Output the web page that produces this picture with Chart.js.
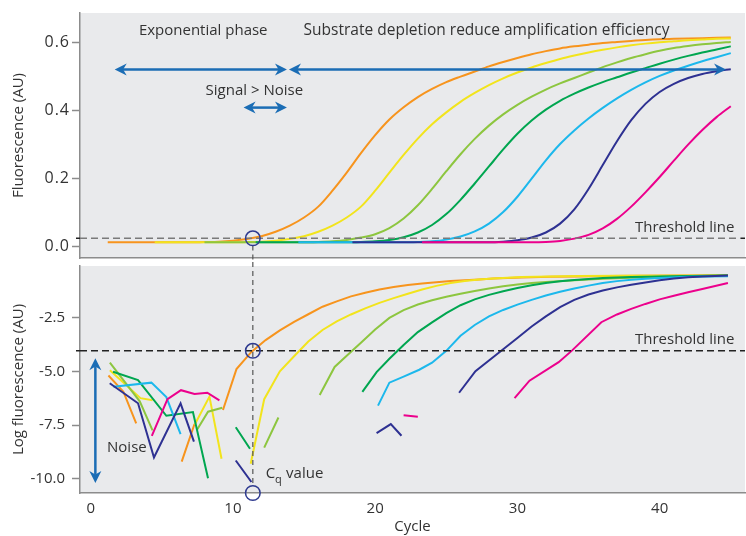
<!DOCTYPE html>
<html>
<head>
<meta charset="utf-8">
<script src="https://cdn.jsdelivr.net/npm/chart.js@4.4.0/dist/chart.umd.min.js"></script>
<style>
  body { margin: 0; background: #fff; }
  canvas { display: block; }
</style>
</head>
<body>
<canvas id="topChart" width="746" height="262"></canvas>
<canvas id="logChart" width="746" height="274"></canvas>
<script>
// cycle numbers used by the fluorescence (top) panel
const cycles = [1, 2, 3, 4, 5, 6, 7, 8, 9, 10, 11, 12, 13, 14, 15, 16, 17, 18, 19, 20,
  21, 22, 23, 24, 25, 26, 27, 28, 29, 30, 31, 32, 33, 34, 35, 36, 37, 38, 39, 40,
  41, 42, 43, 44, 45];
// cycle where each curve's baseline begins
const startCycle = [1.2, 4.5, 8, 11.6, 14.6, 18.4, 23.3];

const fluoOrange = [null, .013, .013, .013, .013, .013, .013, .014, .015, .018,
  .023, .031, .044, .062, .086, .118, .165, .218, .275, .328,
  .374, .41, .44, .464, .484, .5, .515, .53, .543, .555,
  .566, .575, .583, .589, .594, .599, .602, .605, .608, .61,
  .611, .612, .613, .614, .615];
const fluoYellow = [null, null, null, null, .013, .013, .013, .013, .013, .013,
  .014, .015, .018, .023, .031, .044, .062, .086, .118, .165,
  .218, .27, .318, .36, .395, .426, .452, .475, .495, .512,
  .527, .54, .552, .562, .571, .579, .586, .592, .597, .601,
  .604, .607, .609, .611, .612];
const fluoLgreen = [null, null, null, null, null, null, null, .013, .013, .013,
  .013, .013, .013, .013, .013, .014, .016, .02, .027, .037,
  .055, .083, .122, .17, .222, .272, .317, .356, .389, .417,
  .441, .462, .48, .496, .512, .528, .542, .555, .566, .576,
  .584, .59, .595, .599, .602];
const fluoDgreen = [null, null, null, null, null, null, null, null, null, null,
  null, .013, .013, .013, .013, .013, .013, .013, .014, .016,
  .02, .028, .042, .064, .096, .138, .186, .236, .286, .332,
  .371, .403, .429, .45, .468, .484, .498, .512, .525, .538,
  .55, .561, .571, .58, .589];
const fluoCyan = [null, null, null, null, null, null, null, null, null, null,
  null, null, null, null, .013, .013, .013, .013, .013, .013,
  .013, .013, .014, .016, .021, .03, .045, .068, .102, .147,
  .2, .254, .302, .342, .377, .408, .436, .461, .483, .502,
  .518, .532, .545, .557, .569];
const fluoNavy = [null, null, null, null, null, null, null, null, null, null,
  null, null, null, null, null, null, null, null, .013, .013,
  .013, .013, .013, .013, .013, .013, .013, .013, .015, .019,
  .027, .042, .068, .11, .17, .24, .31, .372, .42, .455,
  .479, .496, .508, .516, .522];
const fluoMagenta = [null, null, null, null, null, null, null, null, null, null,
  null, null, null, null, null, null, null, null, null, null,
  null, null, null, .013, .013, .013, .013, .013, .013, .013,
  .013, .014, .017, .024, .035, .054, .082, .118, .16, .205,
  .253, .3, .343, .381, .413];

// log panel: [cycle, log fluorescence], null = break in the line
const logOrange = [
  [1.25, -5.2], [2.3, -5.95], [3.2, -7.42], null,
  [6.4, -9.2], [7.3, -7.45], null,
  [9.3, -6.8], [10.25, -4.9], [11.3, -4.1], [12.3, -3.55], [13.3, -3.1], [14.3, -2.7],
  [15.3, -2.35], [16.3, -2.0], [17.3, -1.75], [18.3, -1.52], [19.3, -1.35], [20.3, -1.2],
  [21.3, -1.08], [22.3, -0.99], [23.3, -0.92], [24.3, -0.86], [25.3, -0.81], [26.3, -0.77],
  [27.3, -0.73], [28.3, -0.69], [30.3, -0.64], [32.3, -0.61], [34.3, -0.59], [36.3, -0.57],
  [38.3, -0.56], [41.3, -0.55], [44.8, -0.54]
];
const logYellow = [
  [1.35, -4.95], [3.5, -6.25], [4.35, -6.35], null,
  [7.3, -7.5], [8.35, -6.18], [9.2, -9.07], null,
  [11.25, -9.3], [12.2, -6.3], [13.3, -5.0], [14.3, -4.3], [15.3, -3.62], [16.3, -3.08],
  [17.3, -2.68], [18.3, -2.36], [19.3, -2.08], [20.3, -1.82], [21.3, -1.6], [22.3, -1.4],
  [23.3, -1.2], [24.3, -1.03], [25.3, -0.9], [26.3, -0.8], [27.3, -0.74], [28.3, -0.69],
  [29.3, -0.65], [30.3, -0.62], [32.3, -0.59], [34.3, -0.57], [37.3, -0.56], [44.8, -0.55]
];
const logLgreen = [
  [1.35, -4.6], [3.45, -6.4], [4.35, -7.75], null,
  [7.5, -7.7], [8.25, -6.88], [9.25, -6.7], null,
  [12.2, -8.55], [13.2, -7.15], null,
  [16.1, -6.1], [17.15, -4.8], [18, -4.28], [19, -3.67], [20, -3.06], [21, -2.52], [22, -2.16],
  [23, -1.9], [24, -1.7], [25, -1.54], [26, -1.4], [27, -1.27], [28, -1.15], [29, -1.05],
  [30, -0.97], [31, -0.9], [32, -0.85], [34, -0.77], [36, -0.7], [38, -0.65], [40, -0.61],
  [42, -0.58], [44.8, -0.55]
];
const logDgreen = [
  [1.57, -5.02], [3.33, -5.41], [5.32, -7.07], [7.19, -6.9], [8.25, -9.97], null,
  [10.2, -7.6], [11.2, -8.6], null,
  [19.1, -5.96], [20.1, -5.04], [21, -4.42], [22, -3.78], [23, -3.18], [24, -2.73], [25, -2.3],
  [26, -1.93], [27, -1.66], [28, -1.45], [29, -1.28], [30, -1.13], [31, -1.0], [32, -0.9],
  [33, -0.82], [34, -0.76], [35, -0.71], [36, -0.67], [38, -0.62], [40, -0.59], [42, -0.57],
  [44.8, -0.55]
];
const logCyan = [
  [1.6, -5.72], [4.27, -5.53], [5.32, -6.2], [6.32, -7.92], null,
  [20.2, -6.6], [21, -5.53], [22, -5.25], [23.1, -4.93], [24, -4.6], [25, -4.05], [26, -3.35],
  [27, -2.85], [28, -2.45], [29, -2.15], [30, -1.9], [31, -1.68], [32, -1.48], [33, -1.3],
  [34, -1.15], [35, -1.02], [36, -0.9], [37, -0.81], [38, -0.75], [39, -0.7], [40, -0.66],
  [42, -0.61], [44.8, -0.58]
];
const logNavy = [
  [1.34, -5.56], [3.33, -6.49], [4.45, -9.01], [6.32, -6.49], [7.26, -8.27], null,
  [10.2, -9.15], [11.3, -10.15], null,
  [20.1, -7.88], [21.1, -7.46], [21.85, -8.0], null,
  [25.9, -6.0], [27.05, -5.0], [28, -4.5], [29, -3.98], [30, -3.45], [31, -2.92], [32, -2.45],
  [33, -2.02], [34, -1.68], [35, -1.43], [36, -1.25], [37, -1.1], [38, -0.98], [39, -0.87],
  [40, -0.77], [41, -0.69], [42, -0.63], [43, -0.59], [44.8, -0.55]
];
const logMagenta = [
  [4.3, -8.0], [5.4, -6.3], [6.35, -5.88], [7.3, -6.06], [8.2, -6.0], [9.05, -6.35], null,
  [22, -7.05], [23, -7.12], null,
  [29.8, -6.25], [30.85, -5.44], [32.9, -4.58], [33.85, -4.03], [35.9, -2.72], [37, -2.36],
  [38, -2.1], [39, -1.87], [40, -1.66], [41, -1.49], [42, -1.33], [43, -1.18], [44.8, -0.9]
];

const fluoTicks = [0, 0.2, 0.4, 0.6];
const logTicks = [-2.5, -5, -7.5, -10];
const cycleTicks = [0, 10, 20, 30, 40];
const thresholdFluo = 0.025;
const thresholdLog = -4.05;
const cqCycle = 11.4;

const colors = ["#f7941d", "#f2e41c", "#8dc63f", "#00a650", "#1cb8ec", "#2e3192", "#ec008c"];
const fluoSeries = [fluoOrange, fluoYellow, fluoLgreen, fluoDgreen, fluoCyan, fluoNavy, fluoMagenta];
const logSeries = [logOrange, logYellow, logLgreen, logDgreen, logCyan, logNavy, logMagenta];

const ink = "#333";
const frame = "#8c8c8c";
const panelFill = "#e9eaec";
const blue = "#1b6db5";
const ring = "#2e3a8f";

Chart.defaults.font.family = "'Open Sans', sans-serif";
Chart.defaults.font.size = 15;
Chart.defaults.color = ink;

function topPoints(values, start) {
  const pts = [];
  values.forEach((v, i) => {
    if (v === null) return;
    if (!pts.length && start < cycles[i]) pts.push({ x: start, y: v });
    pts.push({ x: cycles[i], y: v });
  });
  return pts;
}

function logPoints(list) {
  return list.map((p, i) => p ? { x: p[0], y: p[1] } : { x: list[i - 1][0], y: null });
}

// fixed y-axis width, no extra padding from the labels
function fixAxis(scale) {
  scale.width = 80;
  scale.paddingTop = 0;
  scale.paddingBottom = 0;
}

// top panel tick labels are a bit wider in the original
function spacedLabels(scale) {
  fixAxis(scale);
  scale.drawLabels = function (area) {
    this.ctx.save();
    this.ctx.letterSpacing = "1px";
    Object.getPrototypeOf(this).drawLabels.call(this, area);
    this.ctx.restore();
  };
}

function head(ctx, x, y, ux, uy) {
  const len = 12, half = 6;
  ctx.beginPath();
  ctx.moveTo(x, y);
  ctx.lineTo(x - ux * len - uy * half, y - uy * len + ux * half);
  ctx.lineTo(x - ux * len * 0.7, y - uy * len * 0.7);
  ctx.lineTo(x - ux * len + uy * half, y - uy * len - ux * half);
  ctx.closePath();
  ctx.fill();
}

function arrow(ctx, x1, y1, x2, y2) {
  const d = Math.hypot(x2 - x1, y2 - y1);
  const ux = (x2 - x1) / d, uy = (y2 - y1) / d;
  ctx.strokeStyle = blue;
  ctx.fillStyle = blue;
  ctx.lineWidth = 2.5;
  ctx.beginPath();
  ctx.moveTo(x1 + ux * 8, y1 + uy * 8);
  ctx.lineTo(x2 - ux * 8, y2 - uy * 8);
  ctx.stroke();
  head(ctx, x1, y1, -ux, -uy);
  head(ctx, x2, y2, ux, uy);
}

function threshold(ctx, area, ty, color) {
  ctx.strokeStyle = color;
  ctx.lineWidth = 1.5;
  ctx.setLineDash([7, 4]);
  ctx.beginPath();
  ctx.moveTo(area.left, ty);
  ctx.lineTo(area.right - 4, ty);
  ctx.stroke();
  ctx.setLineDash([]);
  ctx.strokeStyle = "#222";
  ctx.beginPath();
  ctx.moveTo(area.left - 4, ty);
  ctx.lineTo(area.left, ty);
  ctx.moveTo(area.right - 4, ty);
  ctx.lineTo(area.right, ty);
  ctx.stroke();
}

function circle(ctx, x, y) {
  ctx.strokeStyle = ring;
  ctx.lineWidth = 1.5;
  ctx.beginPath();
  ctx.arc(x, y, 7.3, 0, 2 * Math.PI);
  ctx.stroke();
}

function cqLine(ctx, x, y1, y2) {
  ctx.strokeStyle = "#555";
  ctx.lineWidth = 1.2;
  ctx.setLineDash([5, 4]);
  ctx.beginPath();
  ctx.moveTo(x, y1);
  ctx.lineTo(x, y2);
  ctx.stroke();
  ctx.setLineDash([]);
}

const panelBackground = {
  id: "panelBackground",
  beforeDraw(chart) {
    const { ctx, chartArea: a } = chart;
    ctx.save();
    ctx.fillStyle = panelFill;
    ctx.fillRect(a.left, a.top, a.right - a.left, a.bottom - a.top);
    ctx.restore();
  }
};

const topDecor = {
  id: "topDecor",
  afterDatasetsDraw(chart) {
    const { ctx, chartArea: a, scales: { x, y } } = chart;
    const ty = y.getPixelForValue(thresholdFluo);
    const cx = x.getPixelForValue(cqCycle);
    ctx.save();
    threshold(ctx, a, ty, "#7a7a7a");
    cqLine(ctx, cx, ty + 7.3, chart.height);
    circle(ctx, cx, ty);

    ctx.fillStyle = ink;
    ctx.font = "15px 'Open Sans'";
    ctx.textAlign = "left";
    ctx.fillText("Exponential phase", x.getPixelForValue(3.39), y.getPixelForValue(0.622));
    ctx.font = "15.5px 'Open Sans'";
    ctx.fillText("Substrate depletion reduce amplification efficiency", x.getPixelForValue(14.97), y.getPixelForValue(0.622));
    ctx.font = "15px 'Open Sans'";
    ctx.fillText("Signal > Noise", x.getPixelForValue(8.08), y.getPixelForValue(0.447));
    ctx.textAlign = "right";
    ctx.fillText("Threshold line", x.getPixelForValue(45.26), y.getPixelForValue(0.044));

    const ay = y.getPixelForValue(0.521);
    arrow(ctx, x.getPixelForValue(1.69), ay, x.getPixelForValue(13.8), ay);
    arrow(ctx, x.getPixelForValue(13.94), ay, x.getPixelForValue(44.67), ay);
    const sy = y.getPixelForValue(0.409);
    arrow(ctx, x.getPixelForValue(10.75), sy, x.getPixelForValue(13.8), sy);
    ctx.restore();
  }
};

const logDecor = {
  id: "logDecor",
  afterDatasetsDraw(chart) {
    const { ctx, chartArea: a, scales: { x, y } } = chart;
    const ty = y.getPixelForValue(thresholdLog);
    const cx = x.getPixelForValue(cqCycle);
    ctx.save();
    threshold(ctx, a, ty, "#222");
    cqLine(ctx, cx, 0, a.bottom - 7.3);
    circle(ctx, cx, ty);
    circle(ctx, cx, a.bottom);

    ctx.fillStyle = ink;
    ctx.font = "15px 'Open Sans'";
    ctx.textAlign = "right";
    ctx.fillText("Threshold line", x.getPixelForValue(45.26), y.getPixelForValue(-3.72));
    ctx.textAlign = "left";
    ctx.fillText("Noise", x.getPixelForValue(1.15), y.getPixelForValue(-8.75));
    const cqX = x.getPixelForValue(12.3), cqY = y.getPixelForValue(-9.95);
    ctx.fillText("C", cqX, cqY);
    const cw = ctx.measureText("C").width;
    ctx.font = "11px 'Open Sans'";
    ctx.fillText("q", cqX + cw, cqY + 5);
    ctx.font = "15px 'Open Sans'";
    ctx.fillText("value", cqX + cw + 11, cqY);

    const nx = x.getPixelForValue(0.33);
    arrow(ctx, nx, y.getPixelForValue(-4.39), nx, y.getPixelForValue(-10.19));
    ctx.restore();
  }
};

const yGrid = { drawOnChartArea: false, tickLength: 8, color: frame, tickWidth: 1.5 };
const yBorder = { color: frame, width: 1.5 };

new Chart(document.getElementById("topChart"), {
  type: "line",
  data: {
    datasets: fluoSeries.map((vals, i) => ({
      data: topPoints(vals, startCycle[i]),
      borderColor: colors[i],
      borderWidth: 2,
      pointRadius: 0,
      cubicInterpolationMode: "monotone",
      order: 7 - i
    }))
  },
  options: {
    responsive: false,
    animation: false,
    devicePixelRatio: 1,
    layout: { padding: { top: 13, right: 1, bottom: 4, left: 0 } },
    plugins: { legend: { display: false }, tooltip: { enabled: false } },
    scales: {
      x: {
        type: "linear", min: -0.75, max: 46,
        ticks: { display: false },
        grid: { display: false, drawTicks: false },
        border: { color: frame, width: 1.5 },
        afterFit: s => { s.height = 0; }
      },
      y: {
        min: -0.033, max: 0.687,
        grid: yGrid,
        border: yBorder,
        ticks: { padding: 2, font: { size: 16 }, callback: v => v.toFixed(1) },
        afterFit: spacedLabels,
        afterBuildTicks: s => { s.ticks = fluoTicks.map(v => ({ value: v })); },
        title: { display: true, text: "Fluorescence (AU)", padding: { top: 10, bottom: 0 } }
      }
    }
  },
  plugins: [panelBackground, topDecor]
});

new Chart(document.getElementById("logChart"), {
  type: "line",
  data: {
    datasets: logSeries.map((list, i) => ({
      data: logPoints(list),
      borderColor: colors[i],
      borderWidth: 2,
      pointRadius: 0,
      tension: 0,
      order: 7 - i
    }))
  },
  options: {
    responsive: false,
    animation: false,
    devicePixelRatio: 1,
    layout: { padding: { top: 4, right: 1, bottom: 0, left: 0 } },
    plugins: { legend: { display: false }, tooltip: { enabled: false } },
    scales: {
      x: {
        type: "linear", min: -0.75, max: 46,
        afterBuildTicks: s => { s.ticks = cycleTicks.map(v => ({ value: v })); },
        ticks: { padding: 7 },
        grid: { display: false, drawTicks: false },
        border: { color: frame, width: 1.5 },
        title: { display: true, text: "Cycle", padding: 0 },
        afterFit: s => { s.height = 43; s.paddingLeft = 0; s.paddingRight = 0; }
      },
      y: {
        min: -10.66, max: -0.107,
        grid: yGrid,
        border: yBorder,
        ticks: { padding: 7, callback: v => v.toFixed(1) },
        afterFit: fixAxis,
        afterBuildTicks: s => { s.ticks = logTicks.map(v => ({ value: v })); },
        title: { display: true, text: "Log fluorescence (AU)", padding: { top: 10, bottom: 0 } }
      }
    }
  },
  plugins: [panelBackground, logDecor]
});
</script>
</body>
</html>
